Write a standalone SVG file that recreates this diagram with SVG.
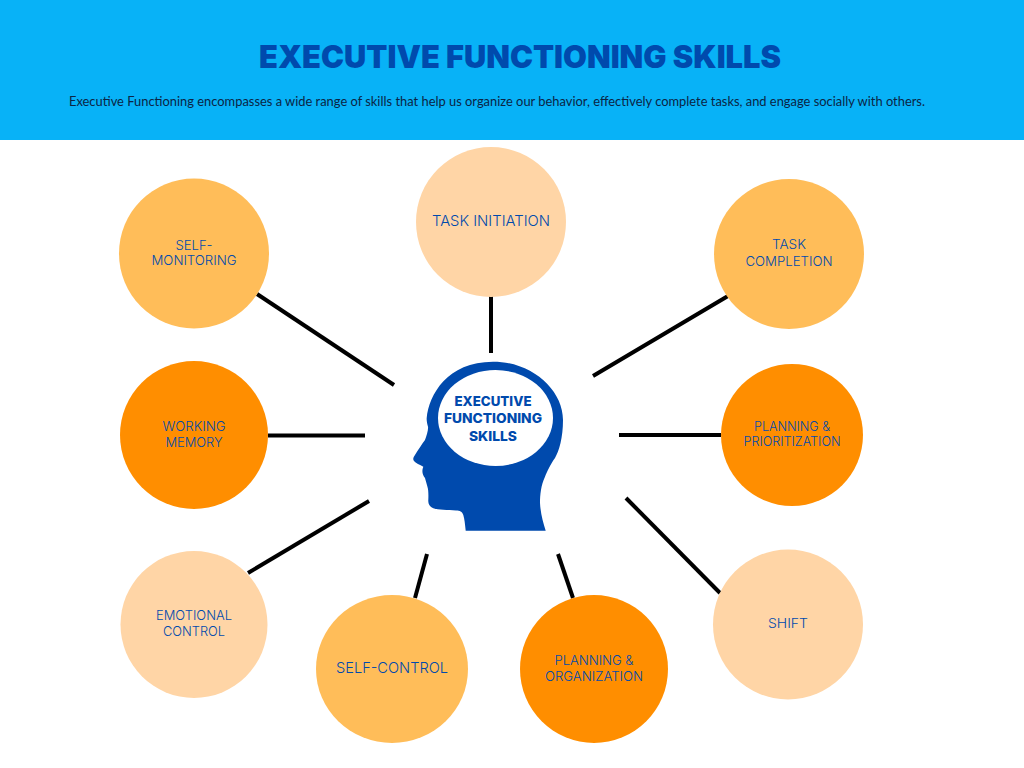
<svg xmlns="http://www.w3.org/2000/svg" width="1024" height="768" viewBox="0 0 1024 768">
<style>
.c{stroke:#000;stroke-width:4;fill:none}
.l{font-family:"Inter","Lato","Liberation Sans",sans-serif;font-size:13.500px;font-weight:300;fill:#004aad;text-anchor:middle}
.h{font-family:"Inter","Lato","Liberation Sans",sans-serif;font-size:13.500px;font-weight:800;fill:#004aad;text-anchor:middle}
.a{fill:#ffbd59}.b{fill:#ff8e00}.d{fill:#ffd5a6}
</style>
<rect width="1024" height="140" fill="#08b2f7"/>
<g id="title">
<text x="520" y="68" text-anchor="middle" textLength="522" lengthAdjust="spacingAndGlyphs" style="font-family:Inter,Lato,'Liberation Sans',sans-serif;font-size:31px;font-weight:900;fill:#004aad">EXECUTIVE FUNCTIONING SKILLS</text>
<text x="497" y="106" text-anchor="middle" textLength="856" lengthAdjust="spacingAndGlyphs" style="font-family:Lato,'Liberation Sans',sans-serif;font-size:13px;fill:#0b2545">Executive Functioning encompasses a wide range of skills that help us organize our behavior, effectively complete tasks, and engage socially with others.</text>
</g>
<g id="connectors" class="c">
<line x1="491" y1="296" x2="491" y2="353"/>
<line x1="257" y1="294" x2="394" y2="385"/>
<line x1="728" y1="296" x2="593" y2="376"/>
<line x1="268" y1="435.500" x2="365" y2="435.500"/>
<line x1="721" y1="435" x2="619" y2="435"/>
<line x1="248" y1="573" x2="369" y2="501"/>
<line x1="720" y1="593" x2="626" y2="498"/>
<line x1="415" y1="598" x2="427" y2="554"/>
<line x1="573" y1="598" x2="558" y2="554"/>
</g>
<g id="head">
<path fill="#004aad" d="M465.700 530.700C465 524 464.500 519 463.300 515C462 511.500 460 510.700 456 510.500C448 510 438 510 433.300 508.300C429.500 506.500 428 504 428.300 500C428.500 495 428.500 490 427.500 487C426.500 483 425.500 480 425 478C422.500 475 421.500 471 423.300 466.700C420 465 415.500 463 414 461C412.500 459 413.500 457 415 455C418 450 422 444 425 440C426.500 436 428.500 430 428 426.700C427 423 426.500 420 426.700 418C429 395 447 361.700 493 361.700C532 361.700 563 390 563 420C563 438 559 451 555 458C550 465 547 472 545 476.700C541 485 540 495 540 503C540.500 513 543 522 545.700 530.700Z"/>
<ellipse cx="495.500" cy="418" rx="57.500" ry="48" fill="#fff"/>
<text class="h" x="493" y="406" textLength="77" lengthAdjust="spacingAndGlyphs">EXECUTIVE</text>
<text class="h" x="493" y="423" textLength="98" lengthAdjust="spacingAndGlyphs">FUNCTIONING</text>
<text class="h" x="493" y="441" textLength="48" lengthAdjust="spacingAndGlyphs">SKILLS</text>
</g>
<g id="task-initiation"><circle class="d" cx="491" cy="222" r="75"/><text class="l" x="491" y="226" textLength="118" lengthAdjust="spacingAndGlyphs" style="font-size:14.500px">TASK INITIATION</text></g>
<g id="self-monitoring"><circle class="a" cx="194" cy="253.500" r="75"/><text class="l" x="194" y="250" textLength="37" lengthAdjust="spacingAndGlyphs">SELF-</text><text class="l" x="194" y="265" textLength="85" lengthAdjust="spacingAndGlyphs">MONITORING</text></g>
<g id="task-completion"><circle class="a" cx="789" cy="254" r="75"/><text class="l" x="789" y="249" textLength="34" lengthAdjust="spacingAndGlyphs">TASK</text><text class="l" x="789" y="266" textLength="87" lengthAdjust="spacingAndGlyphs">COMPLETION</text></g>
<g id="working-memory"><circle class="b" cx="194" cy="435" r="74"/><text class="l" x="194" y="431" textLength="63" lengthAdjust="spacingAndGlyphs">WORKING</text><text class="l" x="194" y="447" textLength="57" lengthAdjust="spacingAndGlyphs">MEMORY</text></g>
<g id="planning-prioritization"><circle class="b" cx="792" cy="435" r="71"/><text class="l" x="792" y="431" textLength="76" lengthAdjust="spacingAndGlyphs">PLANNING &amp;</text><text class="l" x="792" y="446" textLength="97" lengthAdjust="spacingAndGlyphs">PRIORITIZATION</text></g>
<g id="emotional-control"><circle class="d" cx="194" cy="624.500" r="73.500"/><text class="l" x="194" y="620" textLength="76" lengthAdjust="spacingAndGlyphs">EMOTIONAL</text><text class="l" x="194" y="636" textLength="62" lengthAdjust="spacingAndGlyphs">CONTROL</text></g>
<g id="shift"><circle class="d" cx="788" cy="624.500" r="75"/><text class="l" x="788" y="628" textLength="40" lengthAdjust="spacingAndGlyphs">SHIFT</text></g>
<g id="self-control"><ellipse class="a" cx="392" cy="669" rx="76" ry="74"/><text class="l" x="392" y="673" textLength="112" lengthAdjust="spacingAndGlyphs" style="font-size:14.500px">SELF-CONTROL</text></g>
<g id="planning-organization"><circle class="b" cx="594" cy="669" r="74"/><text class="l" x="594" y="665" textLength="79" lengthAdjust="spacingAndGlyphs">PLANNING &amp;</text><text class="l" x="594" y="681" textLength="98" lengthAdjust="spacingAndGlyphs">ORGANIZATION</text></g>
</svg>
